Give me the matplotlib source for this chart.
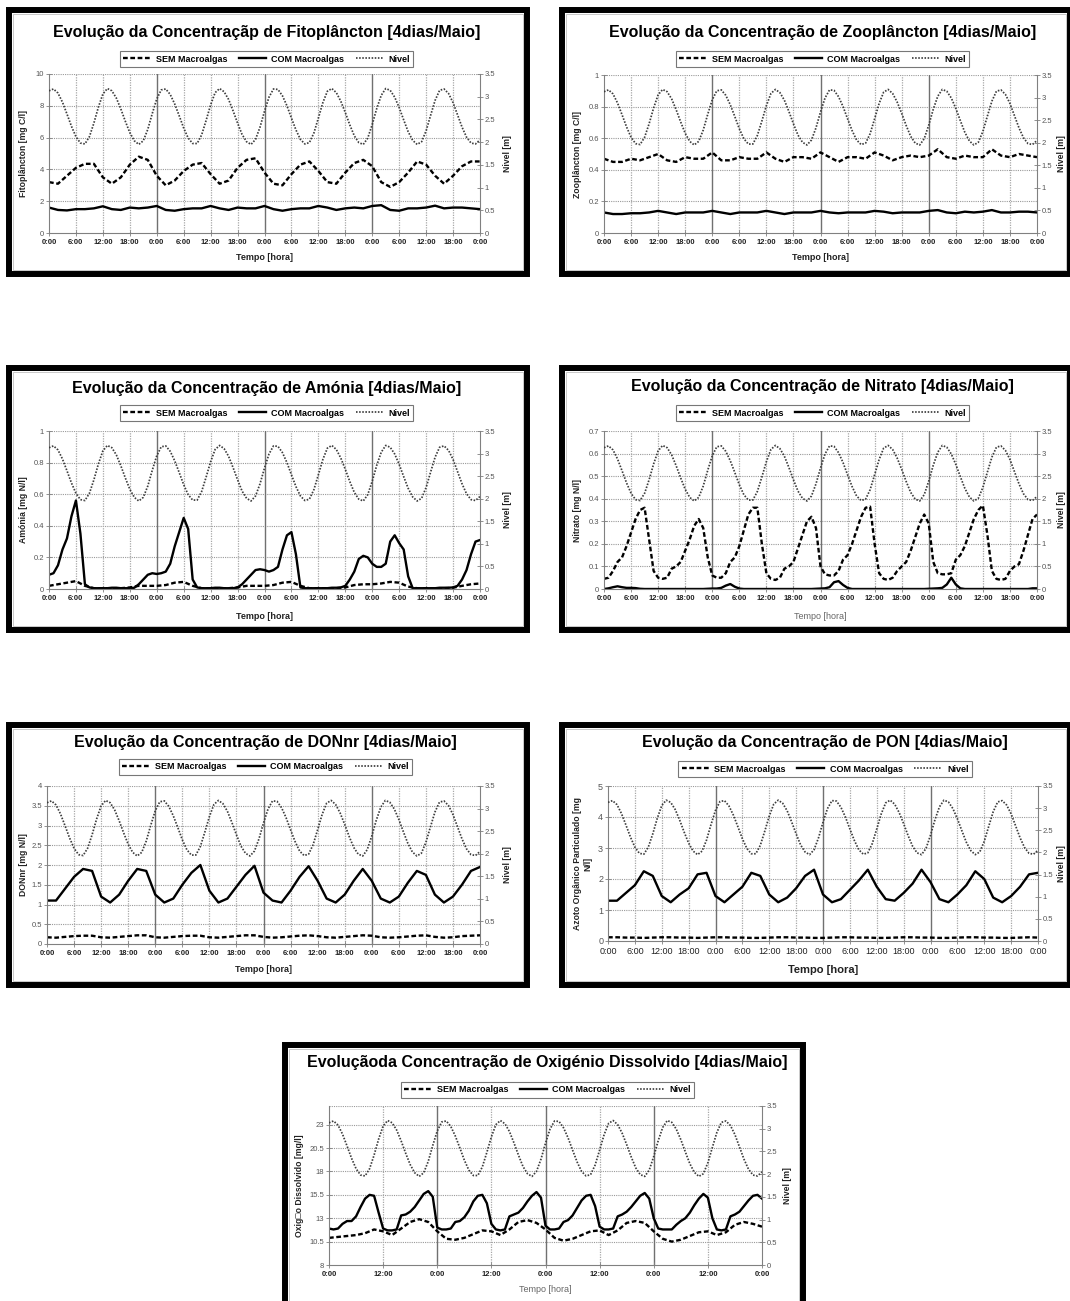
import matplotlib
matplotlib.use("Agg")
import matplotlib.pyplot as plt
from matplotlib.lines import Line2D
from matplotlib.patches import Rectangle

plt.rcParams['font.family'] = ['Liberation Sans', 'DejaVu Sans']

W, H = 1070, 1301

# time axes (hours from start of the 4 days)
hours = list(range(97))
hours2 = list(range(0, 97, 2))
hour_labels = ['0:00', '6:00', '12:00', '18:00'] * 4 + ['0:00']
hour_labels_12 = ['0:00', '12:00'] * 4 + ['0:00']
legend_labels = ['SEM Macroalgas', 'COM Macroalgas', 'Nivel']

# tide level [m], hourly
nivel = [3.13, 3.17, 3.08, 2.88, 2.62, 2.35, 2.12, 1.98, 1.96, 2.12, 2.42, 2.77,
         3.06, 3.18, 3.13, 2.97, 2.73, 2.46, 2.21, 2.03, 1.95, 2.03, 2.28, 2.63,
         2.95, 3.15, 3.17, 3.05, 2.84, 2.58, 2.31, 2.09, 1.97, 1.97, 2.16, 2.48,
         2.82, 3.09, 3.18, 3.11, 2.94, 2.69, 2.42, 2.17, 2.01, 1.95, 2.06, 2.33,
         2.68, 2.99, 3.17, 3.16, 3.02, 2.80, 2.53, 2.27, 2.06, 1.96, 1.99, 2.20,
         2.53, 2.87, 3.12, 3.18, 3.09, 2.90, 2.65, 2.38, 2.14, 1.99, 1.95, 2.09,
         2.39, 2.74, 3.03, 3.18, 3.14, 2.99, 2.76, 2.49, 2.23, 2.04, 1.95, 2.01,
         2.25, 2.59, 2.92, 3.14, 3.17, 3.07, 2.87, 2.60, 2.33, 2.11, 1.98, 1.96,
         2.05]

# Fitoplancton [mg C/l], every 2 h
fito_sem = [3.2, 3.1, 3.6, 4.1, 4.35, 4.35, 3.5, 3.1, 3.5, 4.3,
            4.8, 4.6, 3.6, 3.0, 3.3, 3.9, 4.3, 4.4, 3.7, 3.1,
            3.3, 4.1, 4.6, 4.7, 3.8, 3.1, 3.0, 3.7, 4.3, 4.5,
            3.9, 3.2, 3.1, 3.8, 4.4, 4.6, 4.2, 3.2, 2.9, 3.2,
            3.8, 4.5, 4.3, 3.6, 3.1, 3.6, 4.2, 4.5, 4.5]
fito_com = [1.6, 1.45, 1.42, 1.5, 1.5, 1.55, 1.68, 1.5, 1.45, 1.6,
            1.55, 1.6, 1.7, 1.45, 1.4, 1.5, 1.55, 1.55, 1.7, 1.55,
            1.45, 1.6, 1.55, 1.55, 1.7, 1.5, 1.4, 1.5, 1.55, 1.55,
            1.7, 1.6, 1.45, 1.55, 1.6, 1.55, 1.7, 1.75, 1.45, 1.4,
            1.55, 1.55, 1.6, 1.72, 1.55, 1.6, 1.6, 1.55, 1.5]

# Zooplancton [mg C/l], every 2 h
zoo_sem = [0.47, 0.45, 0.45, 0.47, 0.46, 0.48, 0.50, 0.46, 0.45, 0.48,
           0.47, 0.47, 0.51, 0.46, 0.46, 0.48, 0.47, 0.47, 0.51, 0.47,
           0.45, 0.48, 0.48, 0.47, 0.51, 0.48, 0.45, 0.48, 0.48, 0.47,
           0.51, 0.49, 0.46, 0.48, 0.49, 0.48, 0.49, 0.53, 0.48, 0.47,
           0.49, 0.48, 0.48, 0.53, 0.49, 0.48, 0.50, 0.49, 0.48]
zoo_com = [0.13, 0.12, 0.12, 0.125, 0.125, 0.13, 0.14, 0.13, 0.12, 0.13,
           0.13, 0.13, 0.14, 0.13, 0.12, 0.13, 0.13, 0.13, 0.14, 0.13,
           0.12, 0.13, 0.13, 0.13, 0.14, 0.13, 0.125, 0.13, 0.13, 0.13,
           0.14, 0.135, 0.125, 0.13, 0.13, 0.13, 0.14, 0.145, 0.13, 0.125,
           0.135, 0.13, 0.135, 0.145, 0.13, 0.13, 0.135, 0.135, 0.13]

# Amonia [mg N/l]: SEM every 2 h, COM hourly
amonia_sem = [0.02, 0.03, 0.04, 0.05, 0.02, 0.005, 0.005, 0.005, 0.005, 0.01,
              0.02, 0.02, 0.02, 0.025, 0.04, 0.045, 0.02, 0.005, 0.005, 0.005,
              0.005, 0.01, 0.02, 0.02, 0.02, 0.025, 0.04, 0.045, 0.02, 0.005,
              0.005, 0.005, 0.005, 0.01, 0.025, 0.03, 0.03, 0.035, 0.045, 0.04,
              0.015, 0.005, 0.005, 0.005, 0.005, 0.008, 0.02, 0.03, 0.035]
amonia_com = [0.09, 0.10, 0.15, 0.25, 0.32, 0.46, 0.56, 0.35, 0.03, 0.01,
              0.005, 0.005, 0.005, 0.005, 0.008, 0.008, 0.005, 0.005, 0.005, 0.008,
              0.03, 0.06, 0.09, 0.10, 0.095, 0.10, 0.11, 0.16, 0.27, 0.36,
              0.45, 0.38, 0.06, 0.01, 0.005, 0.005, 0.005, 0.008, 0.008, 0.005,
              0.005, 0.005, 0.01, 0.03, 0.06, 0.09, 0.12, 0.125, 0.12, 0.11,
              0.12, 0.14, 0.25, 0.34, 0.36, 0.22, 0.01, 0.005, 0.005, 0.005,
              0.005, 0.005, 0.005, 0.008, 0.008, 0.01, 0.02, 0.06, 0.11, 0.19,
              0.21, 0.20, 0.16, 0.14, 0.14, 0.16, 0.30, 0.34, 0.29, 0.25,
              0.08, 0.005, 0.005, 0.005, 0.005, 0.005, 0.005, 0.008, 0.008, 0.008,
              0.01, 0.02, 0.06, 0.12, 0.22, 0.30, 0.31]

# Nitrato [mg N/l], hourly
nitrato_sem = [0.045, 0.05, 0.08, 0.12, 0.14, 0.19, 0.25, 0.31, 0.35, 0.36,
               0.22, 0.08, 0.05, 0.045, 0.05, 0.09, 0.10, 0.12, 0.17, 0.22,
               0.28, 0.31, 0.27, 0.14, 0.06, 0.05, 0.05, 0.07, 0.12, 0.14,
               0.19, 0.26, 0.33, 0.36, 0.36, 0.20, 0.07, 0.045, 0.04, 0.05,
               0.09, 0.10, 0.12, 0.18, 0.24, 0.30, 0.32, 0.27, 0.10, 0.065,
               0.06, 0.06, 0.08, 0.13, 0.15, 0.20, 0.26, 0.32, 0.36, 0.365,
               0.20, 0.07, 0.045, 0.04, 0.05, 0.08, 0.10, 0.12, 0.17, 0.23,
               0.29, 0.33, 0.29, 0.12, 0.07, 0.065, 0.065, 0.07, 0.13, 0.15,
               0.19, 0.25, 0.31, 0.35, 0.37, 0.24, 0.08, 0.045, 0.04, 0.045,
               0.08, 0.10, 0.11, 0.17, 0.24, 0.31, 0.33]
nitrato_com = [0.0, 0.003, 0.008, 0.012, 0.008, 0.005, 0.005, 0.004, 0.001, 0.0,
               0.0, 0.0, 0.0, 0.0, 0.0, 0.0, 0.0, 0.0, 0.0, 0.0,
               0.0, 0.0, 0.0, 0.001, 0.002, 0.002, 0.005, 0.015, 0.022, 0.01,
               0.002, 0.0, 0.0, 0.0, 0.0, 0.0, 0.0, 0.0, 0.0, 0.0,
               0.0, 0.0, 0.0, 0.0, 0.0, 0.0, 0.0, 0.001, 0.002, 0.003,
               0.008, 0.03, 0.035, 0.018, 0.005, 0.0, 0.0, 0.0, 0.0, 0.0,
               0.0, 0.0, 0.0, 0.0, 0.0, 0.0, 0.0, 0.0, 0.0, 0.0,
               0.0, 0.0, 0.001, 0.002, 0.003, 0.005, 0.02, 0.05, 0.02, 0.003,
               0.0, 0.0, 0.0, 0.0, 0.0, 0.0, 0.0, 0.0, 0.0, 0.0,
               0.0, 0.0, 0.0, 0.0, 0.0, 0.003, 0.003]

# DONnr [mg N/l], every 2 h
don_sem = [0.17, 0.16, 0.18, 0.20, 0.21, 0.21, 0.17, 0.16, 0.18, 0.20,
           0.22, 0.22, 0.17, 0.16, 0.18, 0.20, 0.21, 0.21, 0.17, 0.16,
           0.18, 0.20, 0.22, 0.22, 0.18, 0.16, 0.17, 0.19, 0.21, 0.22,
           0.20, 0.17, 0.16, 0.18, 0.20, 0.22, 0.21, 0.17, 0.16, 0.17,
           0.19, 0.21, 0.22, 0.18, 0.16, 0.17, 0.20, 0.21, 0.22]
don_com = [1.1, 1.1, 1.4, 1.7, 1.9, 1.85, 1.2, 1.05, 1.25, 1.6,
           1.9, 1.85, 1.25, 1.05, 1.15, 1.5, 1.8, 2.0, 1.35, 1.05,
           1.15, 1.45, 1.75, 1.98, 1.3, 1.1, 1.05, 1.35, 1.7, 1.97,
           1.6, 1.15, 1.05, 1.25, 1.6, 1.9, 1.6, 1.15, 1.05, 1.2,
           1.55, 1.85, 1.75, 1.25, 1.05, 1.2, 1.5, 1.85, 1.95]

# PON [mg N/l], every 2 h
pon_sem = [0.12, 0.12, 0.11, 0.11, 0.10, 0.11, 0.12, 0.12, 0.11, 0.11,
           0.10, 0.11, 0.12, 0.12, 0.11, 0.11, 0.10, 0.10, 0.11, 0.12,
           0.12, 0.11, 0.11, 0.10, 0.10, 0.11, 0.12, 0.12, 0.11, 0.11,
           0.10, 0.10, 0.11, 0.12, 0.12, 0.11, 0.11, 0.10, 0.10, 0.11,
           0.12, 0.12, 0.11, 0.11, 0.10, 0.10, 0.11, 0.12, 0.11]
pon_com = [1.3, 1.3, 1.55, 1.8, 2.25, 2.1, 1.45, 1.25, 1.5, 1.7,
           2.15, 2.2, 1.45, 1.25, 1.5, 1.75, 2.2, 2.1, 1.5, 1.25,
           1.4, 1.7, 2.1, 2.3, 1.5, 1.25, 1.35, 1.65, 1.95, 2.3,
           1.75, 1.35, 1.3, 1.55, 1.85, 2.3, 1.9, 1.35, 1.25, 1.5,
           1.8, 2.25, 2.0, 1.4, 1.25, 1.45, 1.75, 2.15, 2.2]

# Oxigenio dissolvido [mg/l]: SEM every 2 h, COM hourly
od_sem = [10.9, 11.0, 11.1, 11.2, 11.4, 11.8, 11.6, 11.2, 11.9, 12.6,
          12.9, 12.6, 11.6, 10.8, 10.7, 10.9, 11.3, 11.7, 11.6, 11.2,
          11.8, 12.6, 12.8, 12.5, 11.8, 10.9, 10.6, 10.8, 11.2, 11.6,
          11.7, 11.2, 11.7, 12.5, 12.7, 12.5, 11.6, 10.8, 10.5, 10.7,
          11.1, 11.5, 11.6, 11.2, 11.5, 12.3, 12.6, 12.4, 12.1]
od_com = [11.9, 11.8, 11.9, 12.4, 12.7, 12.7, 13.2, 14.2, 15.1, 15.5,
          15.4, 13.6, 11.9, 11.7, 11.7, 11.8, 13.3, 13.4, 13.7, 14.2,
          14.9, 15.6, 15.9, 15.3, 12.0, 11.8, 11.8, 11.9, 12.6, 12.7,
          13.1, 13.8, 14.8, 15.4, 15.5, 14.6, 12.4, 11.8, 11.7, 11.8,
          13.2, 13.4, 13.6, 14.1, 14.8, 15.4, 15.8, 15.2, 12.2, 11.8,
          11.8, 11.9, 12.6, 12.8, 13.3, 14.1, 14.9, 15.4, 15.5, 14.3,
          12.1, 11.8, 11.8, 11.9, 13.2, 13.4, 13.7, 14.2, 14.8, 15.4,
          15.7, 15.1, 13.0, 11.9, 11.8, 11.8, 11.8, 12.3, 12.7, 13.0,
          13.6, 14.4, 15.1, 15.6, 15.2, 13.0, 11.8, 11.7, 11.8, 13.2,
          13.4, 13.7, 14.3, 14.9, 15.4, 15.5, 15.1]

nivel_ticks = [0, 0.5, 1, 1.5, 2, 2.5, 3, 3.5]

SEM_STYLE = dict(color='black', lw=1.7, ls=(0, (2.0, 1.1)))
COM_STYLE = dict(color='black', lw=1.7, ls='-')
NIV_STYLE = dict(color='#3c3c3c', lw=1.25, ls=(0, (0.9, 0.9)))

fig = plt.figure(figsize=(W / 100, H / 100), dpi=100)


def fx(x):
    return x / W


def fy(y):
    return 1 - y / H


def draw_panel(frame, axbox, title, title_y, legend_y, ylabel, ylabel_x, right_x,
               xlabel_y, ylim, yticks, sem_t, sem, com_t, com, xstep=6,
               xlabel_grey=False, big_ticks=False):
    x0, y0, x1, y1 = frame
    fig.add_artist(Rectangle((fx(x0 + 3), fy(y1 - 3)), (x1 - x0 - 6) / W, (y1 - y0 - 6) / H,
                             transform=fig.transFigure, fill=False, lw=4.3, ec='black'))
    fig.add_artist(Rectangle((fx(x0 + 7), fy(y1 - 7)), (x1 - x0 - 14) / W, (y1 - y0 - 14) / H,
                             transform=fig.transFigure, fill=False, lw=0.6, ec='#c0c0c0'))

    l, t, r, b = axbox
    cx = (l + r) / 2 + 2
    ax = fig.add_axes([fx(l), fy(b), (r - l) / W, (b - t) / H])
    ax2 = ax.twinx()

    # grid
    for y in yticks[1:]:
        ax.axhline(y, color='#9a9a9a', lw=0.8, ls=(0, (1, 1)), zorder=0)
    if ylim[1] not in yticks:
        ax.axhline(ylim[1], color='#9a9a9a', lw=0.8, ls=(0, (1, 1)), zorder=0)
    for x in range(xstep, 96, xstep):
        if x % 24 == 0:
            ax.axvline(x, color='#707070', lw=1.0, zorder=0)
        else:
            ax.axvline(x, color='#a8a8a8', lw=0.9, ls=(0, (1, 1)), zorder=0)

    ax.plot(sem_t, sem, **SEM_STYLE)
    ax.plot(com_t, com, **COM_STYLE)
    ax2.plot(hours, nivel, **NIV_STYLE)

    ax.set_xlim(0, 96)
    ax.set_ylim(*ylim)
    ax2.set_ylim(0, 3.5)

    ax.set_yticks(yticks)
    ax.set_yticklabels([f"{v:g}" for v in yticks])
    ax2.set_yticks(nivel_ticks)
    ax2.set_yticklabels([f"{v:g}" for v in nivel_ticks])
    ax.set_xticks(list(range(0, 97, xstep)))
    ax.set_xticklabels(hour_labels if xstep == 6 else hour_labels_12)

    for a in (ax, ax2):
        a.spines['top'].set_visible(False)
        for s in ('left', 'right', 'bottom'):
            a.spines[s].set_color('#808080')
            a.spines[s].set_linewidth(0.8)
    ax.spines['right'].set_visible(False)
    ax2.spines['left'].set_visible(False)
    ax2.spines['bottom'].set_visible(False)

    tsize = 6.5 if big_ticks else 5.5
    ax.tick_params(axis='y', direction='inout', length=4, width=0.6, color='#808080',
                   labelsize=tsize, labelcolor='#555555', pad=1.5)
    ax2.tick_params(axis='y', direction='inout', length=4, width=0.6, color='#808080',
                    labelsize=5.5, labelcolor='#555555', pad=1.5)
    ax.tick_params(axis='x', direction='inout', length=4, width=0.6, color='#808080',
                   labelsize=tsize, labelcolor='#222222', pad=2)
    if not big_ticks:
        for lab in ax.get_xticklabels():
            lab.set_fontweight('bold')

    # texts
    fig.text(fx(cx), fy(title_y), title, ha='center', va='center',
             fontsize=11.5, fontweight='bold')
    if xlabel_grey:
        fig.text(fx((l + r) / 2), fy(xlabel_y), 'Tempo [hora]', ha='center', va='center',
                 fontsize=6.5, color='#666666')
    else:
        fig.text(fx((l + r) / 2), fy(xlabel_y), 'Tempo [hora]', ha='center', va='center',
                 fontsize=8 if big_ticks else 6.5, fontweight='bold', color='#222222')
    fig.text(fx(ylabel_x), fy((t + b) / 2), ylabel, ha='center', va='center',
             rotation=90, fontsize=6.2, fontweight='bold', color='#222222',
             multialignment='center')
    fig.text(fx(right_x), fy((t + b) / 2), 'Nivel [m]', ha='center', va='center',
             rotation=90, fontsize=6.2, fontweight='bold', color='#222222')

    handles = [Line2D([], [], **SEM_STYLE), Line2D([], [], **COM_STYLE),
               Line2D([], [], **NIV_STYLE)]
    leg = fig.legend(handles, legend_labels, loc='center',
                     bbox_to_anchor=(fx(cx), fy(legend_y)), ncol=3, frameon=True,
                     fancybox=False, prop={'size': 6.5, 'weight': 'bold'},
                     handlelength=3.0, handletextpad=0.6, columnspacing=1.3,
                     borderpad=0.35, edgecolor='#555555')
    leg.get_frame().set_linewidth(0.8)


draw_panel((6, 7, 530, 277), (49, 74, 480, 233),
           'Evolução da Concentraçãp de Fitoplâncton [4dias/Maio]', 33, 59,
           'Fitoplâncton [mg C/l]', 24, 508, 258, (0, 10), [0, 2, 4, 6, 8, 10],
           hours2, fito_sem, hours2, fito_com)

draw_panel((559, 7, 1073, 277), (604, 75, 1037, 233),
           'Evolução da Concentração de Zooplâncton [4dias/Maio]', 32, 59,
           'Zooplâncton [mg C/l]', 578, 1062, 258, (0, 1), [0, 0.2, 0.4, 0.6, 0.8, 1],
           hours2, zoo_sem, hours2, zoo_com)

draw_panel((6, 365, 530, 633), (49, 431, 480, 589),
           'Evolução da Concentração de Amónia [4dias/Maio]', 388, 413,
           'Amónia [mg N/l]', 24, 508, 617, (0, 1), [0, 0.2, 0.4, 0.6, 0.8, 1],
           hours2, amonia_sem, hours, amonia_com)

draw_panel((559, 365, 1073, 633), (604, 431, 1037, 589),
           'Evolução da Concentração de Nitrato [4dias/Maio]', 387, 413,
           'Nitrato [mg N/l]', 578, 1062, 617, (0, 0.7),
           [0, 0.1, 0.2, 0.3, 0.4, 0.5, 0.6, 0.7],
           hours, nitrato_sem, hours, nitrato_com, xlabel_grey=True)

draw_panel((6, 722, 530, 988), (47, 786, 480, 944),
           'Evolução da Concentração de DONnr [4dias/Maio]', 743, 767,
           'DONnr [mg N/l]', 24, 508, 970, (0, 4),
           [0, 0.5, 1, 1.5, 2, 2.5, 3, 3.5, 4],
           hours2, don_sem, hours2, don_com)

draw_panel((559, 722, 1073, 988), (608, 786, 1038, 941),
           'Evolução da Concentração de PON [4dias/Maio]', 743, 769,
           'Azoto Orgânico Particulado [mg\nN/l]', 583, 1062, 970, (0, 5),
           [0, 1, 2, 3, 4, 5],
           hours2, pon_sem, hours2, pon_com, big_ticks=True)

draw_panel((282, 1042, 806, 1310), (329, 1106, 762, 1265),
           'Evoluçãoda Concentração de Oxigénio Dissolvido [4dias/Maio]', 1063, 1090,
           'Oxig\u25a1o Dissolvido [mg/l]', 300, 788, 1290, (8, 25),
           [8, 10.5, 13, 15.5, 18, 20.5, 23],
           hours2, od_sem, hours, od_com, xstep=12, xlabel_grey=True)

fig.savefig('out.png', dpi=100, facecolor='white')
